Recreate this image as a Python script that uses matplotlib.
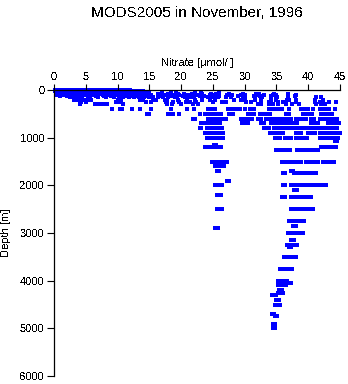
import matplotlib
matplotlib.use("Agg")
import matplotlib.pyplot as plt

plt.rcParams["font.family"] = ["Liberation Sans", "DejaVu Sans"]
plt.rcParams["text.antialiased"] = False

TITLE = "MODS2005 in November, 1996"
XLABEL = "Nitrate [\u00b5mol/l]"
YLABEL = "Depth [m]"
XTICKS = [0, 5, 10, 15, 20, 25, 30, 35, 40, 45]
YTICKS = [0, 1000, 2000, 3000, 4000, 5000, 6000]

# nitrate (umol/l) observed at each standard depth
no3_0 = [0.1, 0.3, 0.5, 0.7, 0.9, 1.1, 1.3, 1.5, 1.8, 2.1, 2.4, 2.7, 3.0, 3.3, 3.6, 3.9,
         4.2, 4.5, 4.9, 5.3, 5.7, 6.0, 6.6, 7.0, 7.4, 7.8, 8.2, 8.6, 9.0, 9.4, 9.8, 10.3,
         10.8, 11.2, 12.0]
no3_5 = [0.2, 0.4, 0.6, 0.8, 1.0, 1.2, 1.4, 1.7, 2.0, 2.3, 2.6, 2.9, 3.2, 3.5, 3.8, 4.1,
         4.4, 4.7, 5.1, 5.5, 5.9, 6.3, 6.8, 7.2, 7.6, 8.0, 8.4, 8.8, 9.2, 9.6, 10.0]
no3_10 = [0.1, 0.4, 0.6, 0.9, 1.2, 1.5, 1.9, 2.3, 2.7, 3.1, 3.5, 4.0, 4.4, 4.8, 5.5, 6.1,
          6.5, 7.1, 7.6, 8.3, 8.8, 9.5, 10.1, 10.6, 11.5]
no3_15 = [0.3, 0.7, 1.0, 1.3, 1.6, 2.1, 2.5, 2.8, 3.3, 3.7, 4.1, 4.6, 5.0, 5.4, 5.8, 6.2,
          6.7, 7.1, 7.5, 8.1, 8.5, 9.0, 9.4, 10.0, 10.9]
no3_20 = [0.2, 0.5, 0.8, 1.1, 1.4, 1.7, 2.0, 2.5, 2.9, 3.4, 3.8, 4.3, 4.7, 5.2, 5.8, 6.3,
          6.9, 7.3, 7.9, 8.5, 9.1, 9.7, 10.4, 11.0, 12.3, 12.8]
no3_30 = [0.2, 0.5, 0.9, 1.3, 1.6, 2.2, 2.6, 3.0, 3.5, 4.1, 4.6, 5.0, 5.4, 6.0, 6.7, 7.2,
          7.7, 8.4, 9.0, 9.6, 10.2, 10.9, 11.8, 13.0, 13.5, 14.0]
no3_40 = [0.3, 0.7, 1.1, 1.5, 2.0, 2.4, 2.9, 3.3, 3.8, 4.3, 4.8, 5.3, 5.8, 6.3, 6.8, 7.3,
          7.9, 8.5, 9.0, 9.5, 10.1, 10.6, 11.0]
no3_50 = [0.3, 0.6, 1.0, 1.4, 1.8, 2.3, 2.8, 3.2, 3.7, 4.2, 4.6, 5.1, 5.6, 6.4, 6.9, 7.5,
          8.0, 8.7, 9.3, 10.0, 10.7, 11.3, 12.1, 13.4, 14.2, 14.6, 15.0, 17.0, 18.4, 19.2,
          22.2, 23.2, 25.9]
no3_60 = [0.5, 1.0, 1.5, 2.1, 2.6, 3.1, 3.6, 4.1, 4.7, 5.2, 5.8, 6.5, 7.0, 7.6, 8.2, 8.8,
          9.4, 10.0, 10.5, 11.0]
no3_75 = [0.4, 0.9, 1.3, 1.9, 2.4, 2.9, 3.4, 3.9, 4.4, 5.0, 5.5, 6.2, 6.8, 7.4, 8.1, 8.9,
          9.6, 10.3, 11.1, 11.6, 12.5, 13.1, 14.8, 16.4, 18.0, 19.5, 20.5, 21.7, 23.3, 24.7,
          25.5, 27.5, 29.8, 31.8, 32.3, 34.6, 36.8]
no3_90 = [0.6, 1.2, 1.8, 2.5, 3.1, 3.7, 4.3, 4.9, 5.6, 6.2, 6.9, 7.5, 8.2, 8.9, 9.5, 10.2,
          10.9, 11.6, 12.4, 13.6]
no3_100 = [0.5, 1.1, 1.7, 2.3, 2.9, 3.4, 4.0, 4.5, 5.1, 5.8, 6.4, 7.0, 7.7, 8.4, 9.1, 9.8,
           10.6, 11.4, 12.0, 12.7, 13.3, 14.0, 15.3, 16.3, 16.9, 17.6, 18.2, 19.0, 19.6,
           20.6, 21.2, 21.9, 22.5, 23.2, 24.5, 25.3, 26.0, 27.2, 28.0, 29.4, 30.0, 32.0,
           33.0, 34.4, 35.0, 38.0]
no3_125 = [1.0, 2.0, 3.0, 4.1, 5.3, 6.6, 7.8, 9.0, 10.2, 11.5, 12.2, 13.0, 13.8, 14.5, 16.5,
           17.1, 17.9, 18.6, 19.3, 20.3, 21.0, 21.8, 23.0, 23.6, 24.6, 25.2, 26.0, 29.0,
           29.8, 31.5, 32.4, 34.2, 35.0, 36.8, 37.9]
no3_150 = [2.5, 3.6, 4.4, 5.6, 7.0, 8.2, 9.5, 10.9, 11.8, 12.6, 13.4, 14.2, 15.0, 15.6, 16.3,
           17.1, 18.0, 19.1, 20.6, 21.4, 22.0, 24.2, 25.0, 25.8, 27.1, 27.9, 30.0, 31.6,
           32.7, 34.2, 35.1, 41.2, 42.0]
no3_200 = [3.2, 3.8, 4.3, 4.8, 5.4, 5.9, 10.0, 10.5, 13.5, 14.0, 15.6, 16.0, 17.4, 17.8, 19.5,
           21.0, 22.2, 23.3, 24.6, 25.4, 28.3, 29.4, 30.0, 31.6, 32.5, 34.2, 35.0, 36.7,
           37.0, 38.0, 41.1, 42.3]
no3_250 = [4.2, 5.0, 9.7, 10.2, 14.5, 15.2, 17.6, 18.8, 19.6, 20.8, 21.4, 22.4, 25.0, 26.4,
           27.1, 30.2, 31.0, 33.9, 35.2, 36.1, 38.1, 41.0, 41.8, 43.2, 44.4]
no3_300 = [4.1, 6.5, 6.9, 7.3, 7.7, 8.3, 10.9, 17.8, 18.5, 20.0, 21.9, 22.6, 32.1, 32.6,
           33.9, 34.5, 35.3, 36.5, 37.4, 38.5, 41.3, 42.0, 42.6]
no3_400 = [9.1, 10.4, 10.7, 12.3, 13.6, 15.3, 18.4, 21.0, 22.1, 24.2, 24.6, 25.0, 25.4, 27.4,
           28.0, 28.6, 29.2, 30.0, 30.9, 31.4, 33.9, 34.3, 34.8, 35.3, 35.8, 36.9, 38.8,
           39.3, 40.0, 40.7, 41.8, 42.3, 42.8, 43.3, 44.2]
no3_500 = [14.7, 14.9, 17.9, 18.3, 18.7, 19.7, 23.0, 23.8, 24.2, 24.6, 25.0, 25.4, 25.8, 26.3,
           27.6, 28.2, 30.5, 31.0, 31.4, 32.4, 32.8, 33.2, 33.6, 34.0, 36.5, 36.9, 39.1,
           39.6, 40.2, 40.6, 42.0, 42.4, 42.8, 43.3, 43.8]
no3_600 = [21.8, 22.2, 24.3, 24.7, 25.1, 25.5, 25.9, 26.2, 26.7, 27.0, 29.4, 29.9, 30.3, 30.7,
           31.1, 32.1, 32.5, 33.3, 33.7, 34.1, 34.5, 34.9, 35.3, 35.7, 36.0, 36.4, 36.8,
           37.3, 38.1, 38.5, 38.9, 39.3, 39.6, 40.4, 40.9, 41.9, 42.3, 42.7, 43.1, 43.5,
           43.9, 44.3, 44.6]
no3_700 = [23.2, 23.6, 24.1, 24.5, 24.9, 25.3, 25.7, 26.1, 29.6, 30.0, 30.6, 32.5, 33.1, 34.1,
           34.5, 34.9, 35.3, 35.7, 36.1, 36.5, 36.8, 37.3, 37.8, 38.2, 40.5, 41.0, 41.5,
           43.1, 43.5, 43.9, 44.3, 44.9]
no3_800 = [23.0, 23.2, 24.0, 24.4, 24.8, 25.2, 25.6, 26.0, 26.4, 33.0, 33.4, 33.8, 34.6, 35.0,
           35.4, 35.8, 36.2, 36.5, 37.0, 37.4, 37.8, 38.2, 38.6, 39.0, 39.4, 39.8, 40.1,
           40.8, 41.2, 41.6, 42.0, 42.4, 42.7, 43.1, 43.5, 43.9, 44.3, 44.6]
no3_900 = [23.8, 24.2, 24.6, 25.0, 25.4, 25.8, 26.2, 26.6, 34.0, 34.4, 34.8, 35.2, 35.6, 36.1,
           38.0, 38.4, 38.8, 39.9, 40.4, 41.1, 41.9, 42.3, 42.7, 43.1, 43.5, 43.9, 44.3,
           44.7, 45.0]
no3_1000 = [24.1, 24.5, 24.9, 25.3, 25.7, 26.1, 26.6, 34.8, 35.2, 35.6, 36.3, 36.7, 37.3,
            38.1, 38.5, 38.8, 39.0, 39.4, 39.8, 41.9, 42.3, 42.7, 43.1, 43.5, 43.9, 44.3,
            44.7]
no3_1060 = [44.2, 44.5]
no3_1150 = [25.2, 25.5]
no3_1200 = [23.8, 24.2, 24.7, 25.1, 25.5, 25.9, 26.3, 42.0, 42.4, 42.8, 43.2, 43.6, 44.0,
            44.4]
no3_1250 = [34.9, 35.3, 35.8, 36.2, 36.8, 37.2, 38.3, 38.7, 39.1, 39.5, 39.9, 40.3, 40.7,
            41.1, 41.5]
no3_1500 = [24.9, 25.3, 25.7, 26.1, 26.5, 26.9, 27.2, 35.8, 36.2, 36.6, 37.3, 37.7, 38.1,
            38.5, 38.9, 39.6, 40.0, 40.4, 40.8, 41.2, 41.5, 42.3, 42.7, 43.1, 43.5, 44.0]
no3_1600 = [25.3, 25.6, 26.3, 26.7]
no3_1700 = [25.6, 26.0, 37.3, 37.6]
no3_1750 = [36.0, 36.4, 37.8, 38.2, 38.6, 39.0, 39.4, 39.8, 40.2, 40.6, 41.2]
no3_1900 = [27.2, 27.6]
no3_2000 = [25.3, 25.7, 26.1, 26.5, 36.0, 36.4, 37.3, 37.7, 38.1, 38.5, 38.9, 39.3, 39.7,
            40.1, 40.5, 40.7, 41.0, 41.4, 41.8, 42.2, 42.5, 42.8]
no3_2100 = [37.7, 38.2]
no3_2200 = [25.6, 26.2]
no3_2250 = [35.8, 36.3, 37.3, 37.7, 38.1, 38.5, 38.9, 39.3, 39.7, 40.1, 40.4]
no3_2500 = [25.7, 26.1, 26.5, 37.3, 37.7, 38.1, 38.5, 38.9, 39.3, 39.7, 40.1, 40.5, 40.8]
no3_2750 = [37.0, 37.4, 37.8, 38.2, 38.6, 39.0, 39.4]
no3_2850 = [37.6, 38.1]
no3_2900 = [25.4, 25.8]
no3_3000 = [36.8, 37.2, 37.6, 38.0, 38.4, 38.8, 39.1]
no3_3150 = [37.3, 37.7]
no3_3250 = [36.7, 37.0, 37.3, 37.7, 38.1, 38.3]
no3_3300 = [36.9, 37.3]
no3_3500 = [36.2, 36.6, 37.0, 37.4, 37.8, 38.1]
no3_3750 = [35.6, 36.0, 36.4, 36.8, 37.2, 37.5]
no3_4000 = [35.2, 35.6, 36.0, 36.3, 36.6]
no3_4050 = [36.6, 37.0, 37.3]
no3_4100 = [35.3, 35.7, 36.1, 36.5]
no3_4200 = [35.4, 35.8]
no3_4250 = [35.3, 35.7, 36.0]
no3_4300 = [34.3, 34.7, 35.0]
no3_4400 = [35.0, 35.4]
no3_4500 = [34.7, 35.1, 35.5]
no3_4700 = [34.3, 34.6]
no3_4750 = [34.7, 35.1]
no3_4900 = [34.4, 34.8]
no3_5000 = [34.4, 34.8]

profiles = [
    (0, no3_0), (5, no3_5), (10, no3_10), (15, no3_15), (20, no3_20), (30, no3_30),
    (40, no3_40), (50, no3_50), (60, no3_60), (75, no3_75), (90, no3_90),
    (100, no3_100), (125, no3_125), (150, no3_150), (200, no3_200), (250, no3_250),
    (300, no3_300), (400, no3_400), (500, no3_500), (600, no3_600), (700, no3_700),
    (800, no3_800), (900, no3_900), (1000, no3_1000), (1060, no3_1060),
    (1150, no3_1150), (1200, no3_1200), (1250, no3_1250), (1500, no3_1500),
    (1600, no3_1600), (1700, no3_1700), (1750, no3_1750), (1900, no3_1900),
    (2000, no3_2000), (2100, no3_2100), (2200, no3_2200), (2250, no3_2250),
    (2500, no3_2500), (2750, no3_2750), (2850, no3_2850), (2900, no3_2900),
    (3000, no3_3000), (3150, no3_3150), (3250, no3_3250), (3300, no3_3300),
    (3500, no3_3500), (3750, no3_3750), (4000, no3_4000), (4050, no3_4050),
    (4100, no3_4100), (4200, no3_4200), (4250, no3_4250), (4300, no3_4300),
    (4400, no3_4400), (4500, no3_4500), (4700, no3_4700), (4750, no3_4750),
    (4900, no3_4900), (5000, no3_5000),
]

nitrate = [v for _, vals in profiles for v in vals]
depth = [d for d, vals in profiles for _ in vals]

fig = plt.figure(figsize=(3.48, 3.84), dpi=100)
ax = fig.add_axes([54 / 348, 1 - 376 / 384, 286 / 348, 286 / 384])

ax.scatter(nitrate, depth, s=5.8, marker="s", c="#0000ff", linewidths=0,
           antialiased=False, clip_on=False)

ax.set_xlim(0, 45)
ax.set_ylim(6000, 0)
ax.set_xticks(XTICKS)
ax.set_yticks(YTICKS)
ax.xaxis.set_ticks_position("top")
ax.xaxis.set_label_position("top")
ax.tick_params(direction="out", length=4, width=0.8, labelsize=8, pad=2)
ax.tick_params(axis="y", length=5)

for side in ("right", "bottom"):
    ax.spines[side].set_visible(False)
for side in ("top", "left"):
    ax.spines[side].set_linewidth(0.9)

ax.set_xlabel(XLABEL, fontsize=8, labelpad=4)
ax.set_ylabel(YLABEL, fontsize=8, labelpad=6)
fig.text(197 / 348, 1 - 13 / 384, TITLE, ha="center", va="center", fontsize=11)

fig.savefig("out.png", dpi=100)
